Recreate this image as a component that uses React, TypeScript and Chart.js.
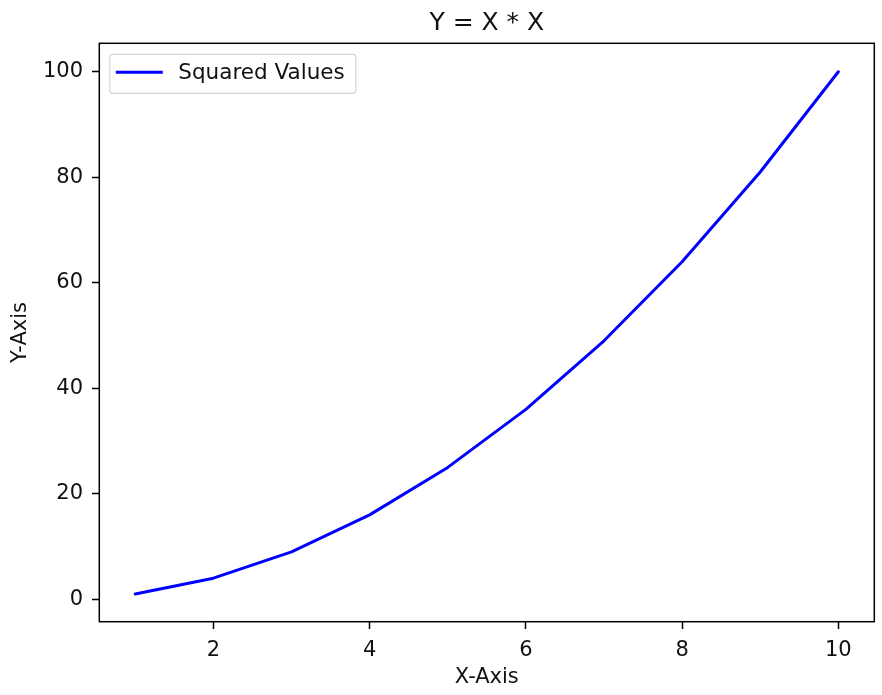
import React, { useEffect, useRef } from "react";
import { Chart, registerables } from "chart.js";

Chart.register(...registerables);

const xValues = [1, 2, 3, 4, 5, 6, 7, 8, 9, 10];
const yValues = [1, 4, 9, 16, 25, 36, 49, 64, 81, 100];
const xTicks = [2, 4, 6, 8, 10];
const yTicks = [0, 20, 40, 60, 80, 100];
const xMin = 0.54;
const xMax = 10.46;
const yMin = -4.25;
const yMax = 105.4;
const seriesLabel = "Squared Values";
const chartTitle = "Y = X * X";
const xTitle = "X-Axis";
const yTitle = "Y-Axis";

const FONT = "'DejaVu Sans', sans-serif";
const TEXT = "#111111";

const framePlugin = {
  id: "frame",
  afterDraw(chart: any) {
    const { ctx, chartArea } = chart;
    const { left, top, right, bottom } = chartArea;
    ctx.save();
    // legend
    const ds = chart.data.datasets[0];
    const bx = left + 10.5;
    const by = top + 11;
    const bw = 246;
    const bh = 39;
    ctx.beginPath();
    ctx.roundRect(bx, by, bw, bh, 3);
    ctx.fillStyle = "rgba(255,255,255,0.8)";
    ctx.fill();
    ctx.strokeStyle = "#d4d4d4";
    ctx.lineWidth = 1.2;
    ctx.stroke();
    const ly = by + 18;
    ctx.beginPath();
    ctx.moveTo(bx + 6, ly);
    ctx.lineTo(bx + 53, ly);
    ctx.strokeStyle = ds.borderColor;
    ctx.lineWidth = ds.borderWidth;
    ctx.stroke();
    ctx.fillStyle = TEXT;
    ctx.font = `21.5px ${FONT}`;
    ctx.textBaseline = "middle";
    ctx.textAlign = "left";
    ctx.fillText(ds.label, bx + 68.5, ly + 1);
    // spines
    ctx.strokeStyle = "#000000";
    ctx.lineWidth = 1.5;
    ctx.strokeRect(left, top, right - left, bottom - top);
    ctx.restore();
  },
};

export default function App() {
  const ref = useRef<HTMLCanvasElement | null>(null);
  useEffect(() => {
    document.body.style.margin = "0";
    const canvas = ref.current!;
    const tickFont = { family: FONT, size: 21 };
    const chart = new Chart(canvas, {
      type: "line",
      data: {
        datasets: [
          {
            label: seriesLabel,
            data: xValues.map((x, i) => ({ x, y: yValues[i] })),
            borderColor: "#0000ff",
            backgroundColor: "#0000ff",
            borderWidth: 3,
            borderCapStyle: "round",
            borderJoinStyle: "round",
            pointRadius: 0,
            tension: 0,
            fill: false,
          },
        ],
      },
      options: {
        animation: false,
        responsive: false,
        devicePixelRatio: 1,
        layout: { padding: { left: 0, right: 7.7, top: 0, bottom: 0 } },
        plugins: {
          legend: { display: false },
          tooltip: { enabled: false },
          title: {
            display: true,
            text: chartTitle,
            fullSize: false,
            color: TEXT,
            font: { family: FONT, size: 25, weight: "normal" },
            padding: { top: 8, bottom: 5.3 },
          },
        },
        scales: {
          x: {
            type: "linear",
            min: xMin,
            max: xMax,
            afterBuildTicks: (scale: any) => {
              scale.ticks = xTicks.map((v) => ({ value: v }));
            },
            afterFit: (scale: any) => {
              scale.height = 73.3;
            },
            grid: {
              drawOnChartArea: false,
              drawTicks: true,
              tickLength: 7.3,
              tickColor: "#000000",
              tickWidth: 1.5,
            },
            border: { display: false },
            ticks: { font: tickFont, color: TEXT, padding: 9, maxRotation: 0 },
            title: {
              display: true,
              text: xTitle,
              color: TEXT,
              font: tickFont,
              padding: { top: 0, bottom: 5 },
            },
          },
          y: {
            type: "linear",
            min: yMin,
            max: yMax,
            afterBuildTicks: (scale: any) => {
              scale.ticks = yTicks.map((v) => ({ value: v }));
            },
            afterFit: (scale: any) => {
              scale.width = 99.3;
            },
            grid: {
              drawOnChartArea: false,
              drawTicks: true,
              tickLength: 7.3,
              tickColor: "#000000",
              tickWidth: 1.5,
            },
            border: { display: false },
            ticks: { font: tickFont, color: TEXT, padding: 9 },
            title: {
              display: true,
              text: yTitle,
              color: TEXT,
              font: tickFont,
              padding: { top: 8, bottom: 0 },
            },
          },
        },
      },
      plugins: [framePlugin],
    } as any);
    return () => chart.destroy();
  }, []);
  return (
    <div style={{ width: 882, height: 695, position: "relative" }}>
      <canvas ref={ref} width={882} height={695} style={{ display: "block" }} />
    </div>
  );
}
